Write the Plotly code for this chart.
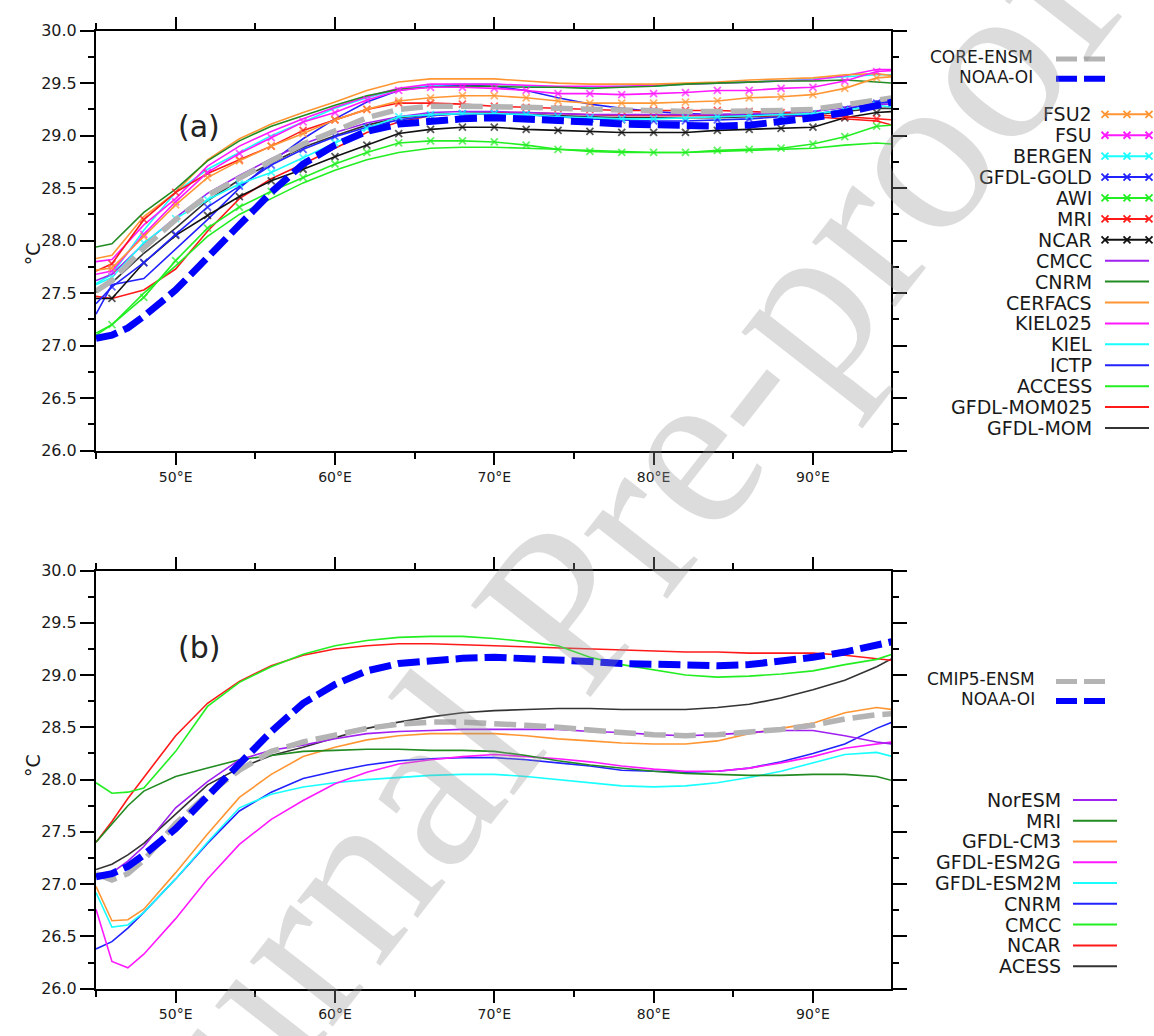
import plotly.graph_objects as go

# ---------------- data ----------------
# panel (a) longitude grid (every 2 deg, plus edges)
LON_A = [45, 46, 48, 50, 52, 54, 56, 58, 60, 62, 64, 66, 68, 70, 72, 74, 76, 78, 80, 82, 84, 86, 88, 90, 92, 94, 95]
# panel (b) longitude grid
LON_B = [45, 46, 47, 48, 50, 52, 54, 56, 58, 60, 62, 64, 66, 68, 70, 72, 74, 76, 78, 80, 82, 84, 86, 88, 90, 92, 94, 95]

NOAA_OI = [27.07, 27.10, 27.17, 27.28, 27.53, 27.83, 28.15, 28.46, 28.73, 28.91, 29.04, 29.11, 29.14, 29.16, 29.17,
           29.16, 29.15, 29.13, 29.11, 29.10, 29.09, 29.09, 29.10, 29.13, 29.17, 29.22, 29.29, 29.32]

# panel (a) : CORE models
CORE_ENSM = [27.52, 27.62, 27.93, 28.20, 28.43, 28.60, 28.76, 28.92, 29.05, 29.17, 29.25, 29.28, 29.28, 29.28, 29.27,
             29.26, 29.25, 29.24, 29.23, 29.23, 29.23, 29.23, 29.24, 29.25, 29.29, 29.34, 29.36]
FSU2 = [27.72, 27.74, 28.04, 28.34, 28.60, 28.76, 28.90, 29.02, 29.15, 29.25, 29.33, 29.36, 29.38, 29.38, 29.36,
        29.33, 29.31, 29.31, 29.31, 29.32, 29.33, 29.36, 29.37, 29.39, 29.45, 29.55, 29.56]
FSU = [27.68, 27.71, 28.06, 28.37, 28.65, 28.83, 28.98, 29.13, 29.22, 29.34, 29.43, 29.46, 29.46, 29.45, 29.43,
       29.40, 29.40, 29.39, 29.40, 29.41, 29.43, 29.43, 29.45, 29.46, 29.52, 29.61, 29.62]
BERGEN = [27.58, 27.65, 27.98, 28.21, 28.39, 28.54, 28.65, 28.79, 28.93, 29.07, 29.18, 29.20, 29.21, 29.21, 29.20,
          29.18, 29.17, 29.16, 29.16, 29.17, 29.18, 29.19, 29.20, 29.21, 29.24, 29.29, 29.27]
GFDL_GOLD = [27.40, 27.56, 27.79, 28.06, 28.32, 28.52, 28.72, 28.87, 28.99, 29.08, 29.15, 29.19, 29.21, 29.21, 29.20,
             29.18, 29.16, 29.15, 29.14, 29.14, 29.15, 29.16, 29.18, 29.20, 29.25, 29.31, 29.32]
AWI = [27.10, 27.20, 27.46, 27.81, 28.12, 28.32, 28.47, 28.60, 28.73, 28.84, 28.93, 28.95, 28.95, 28.94, 28.91,
       28.87, 28.85, 28.84, 28.84, 28.84, 28.86, 28.87, 28.88, 28.92, 28.99, 29.09, 29.10]
MRI_A = [27.71, 27.78, 28.20, 28.46, 28.64, 28.77, 28.90, 29.05, 29.15, 29.25, 29.31, 29.31, 29.30, 29.28, 29.27,
         29.26, 29.25, 29.24, 29.24, 29.24, 29.24, 29.23, 29.22, 29.20, 29.18, 29.16, 29.15]
NCAR_A = [27.45, 27.45, 27.79, 28.05, 28.24, 28.42, 28.57, 28.68, 28.80, 28.91, 29.02, 29.06, 29.08, 29.08, 29.06,
          29.05, 29.04, 29.03, 29.03, 29.03, 29.05, 29.06, 29.07, 29.08, 29.17, 29.22, 29.23]
CMCC_A = [27.62, 27.68, 27.97, 28.22, 28.45, 28.62, 28.78, 28.92, 29.03, 29.12, 29.18, 29.22, 29.23, 29.23, 29.22,
          29.21, 29.20, 29.20, 29.20, 29.20, 29.20, 29.21, 29.22, 29.23, 29.27, 29.30, 29.30]
CNRM_A = [27.94, 27.97, 28.27, 28.49, 28.76, 28.95, 29.09, 29.19, 29.29, 29.38, 29.44, 29.46, 29.47, 29.47, 29.46,
          29.46, 29.45, 29.46, 29.47, 29.49, 29.50, 29.51, 29.52, 29.52, 29.53, 29.51, 29.50]
CERFACS = [27.83, 27.86, 28.23, 28.46, 28.77, 28.97, 29.11, 29.22, 29.32, 29.43, 29.51, 29.54, 29.54, 29.54, 29.52,
           29.50, 29.49, 29.49, 29.49, 29.50, 29.51, 29.53, 29.54, 29.55, 29.58, 29.59, 29.57]
KIEL025 = [27.80, 27.82, 28.15, 28.40, 28.71, 28.90, 29.04, 29.16, 29.27, 29.37, 29.45, 29.49, 29.49, 29.49, 29.48,
           29.47, 29.47, 29.47, 29.48, 29.49, 29.50, 29.51, 29.52, 29.53, 29.57, 29.63, 29.63]
KIEL = [27.59, 27.68, 28.10, 28.46, 28.68, 28.84, 29.00, 29.13, 29.26, 29.36, 29.44, 29.48, 29.49, 29.49, 29.47,
        29.46, 29.46, 29.47, 29.47, 29.49, 29.50, 29.51, 29.52, 29.54, 29.56, 29.58, 29.58]
ICTP = [27.30, 27.58, 27.64, 27.92, 28.20, 28.50, 28.75, 28.97, 29.16, 29.32, 29.43, 29.47, 29.48, 29.47, 29.43,
        29.36, 29.30, 29.26, 29.23, 29.21, 29.20, 29.20, 29.21, 29.23, 29.27, 29.33, 29.32]
ACCESS = [27.12, 27.20, 27.50, 27.76, 28.04, 28.25, 28.40, 28.55, 28.67, 28.77, 28.84, 28.88, 28.89, 28.89, 28.88,
          28.87, 28.86, 28.85, 28.84, 28.84, 28.85, 28.86, 28.87, 28.88, 28.91, 28.93, 28.92]
GFDL_MOM025 = [27.47, 27.45, 27.53, 27.73, 28.09, 28.40, 28.59, 28.73, 28.88, 29.03, 29.13, 29.19, 29.21, 29.22, 29.22,
               29.21, 29.20, 29.19, 29.19, 29.19, 29.19, 29.19, 29.19, 29.18, 29.16, 29.14, 29.10]
GFDL_MOM = [27.51, 27.60, 27.88, 28.12, 28.38, 28.58, 28.74, 28.89, 29.00, 29.10, 29.17, 29.20, 29.21, 29.21, 29.20,
            29.19, 29.18, 29.17, 29.17, 29.17, 29.17, 29.18, 29.19, 29.20, 29.23, 29.26, 29.26]

# panel (b) : CMIP5 models
CMIP5_ENSM = [27.10, 27.04, 27.10, 27.23, 27.58, 27.86, 28.09, 28.27, 28.36, 28.43, 28.49, 28.53, 28.55, 28.55, 28.54,
              28.52, 28.50, 28.47, 28.45, 28.43, 28.42, 28.43, 28.45, 28.48, 28.52, 28.58, 28.62, 28.63]
NorESM = [27.10, 27.11, 27.22, 27.36, 27.73, 27.98, 28.19, 28.28, 28.33, 28.39, 28.44, 28.46, 28.47, 28.48, 28.48,
          28.48, 28.48, 28.46, 28.45, 28.43, 28.42, 28.43, 28.45, 28.47, 28.47, 28.42, 28.36, 28.34]
MRI_B = [27.40, 27.58, 27.75, 27.89, 28.03, 28.11, 28.19, 28.23, 28.27, 28.28, 28.29, 28.29, 28.28, 28.28, 28.27,
         28.23, 28.18, 28.14, 28.11, 28.08, 28.06, 28.05, 28.04, 28.04, 28.05, 28.05, 28.03, 27.99]
GFDL_CM3 = [26.98, 26.65, 26.66, 26.76, 27.11, 27.48, 27.83, 28.05, 28.22, 28.31, 28.38, 28.42, 28.44, 28.44, 28.44,
            28.42, 28.39, 28.37, 28.35, 28.34, 28.34, 28.37, 28.44, 28.49, 28.54, 28.64, 28.69, 28.67]
GFDL_ESM2G = [26.76, 26.26, 26.20, 26.33, 26.67, 27.05, 27.38, 27.62, 27.80, 27.96, 28.07, 28.15, 28.19, 28.22, 28.24,
              28.22, 28.20, 28.17, 28.13, 28.10, 28.08, 28.08, 28.11, 28.16, 28.22, 28.30, 28.34, 28.36]
GFDL_ESM2M = [26.92, 26.59, 26.61, 26.73, 27.05, 27.40, 27.73, 27.86, 27.93, 27.97, 28.00, 28.02, 28.04, 28.05, 28.05,
              28.03, 28.00, 27.97, 27.94, 27.93, 27.94, 27.97, 28.02, 28.08, 28.16, 28.24, 28.26, 28.22]
CNRM_B = [26.38, 26.45, 26.58, 26.73, 27.05, 27.39, 27.70, 27.88, 28.01, 28.08, 28.14, 28.18, 28.20, 28.21, 28.21,
          28.19, 28.16, 28.13, 28.09, 28.08, 28.07, 28.08, 28.11, 28.17, 28.25, 28.34, 28.49, 28.55]
CMCC_B = [27.97, 27.87, 27.88, 27.92, 28.27, 28.70, 28.93, 29.08, 29.20, 29.28, 29.33, 29.36, 29.37, 29.37, 29.35,
          29.32, 29.28, 29.17, 29.10, 29.05, 29.00, 28.98, 28.99, 29.01, 29.04, 29.10, 29.15, 29.20]
NCAR_B = [27.40, 27.60, 27.82, 28.02, 28.42, 28.73, 28.94, 29.09, 29.19, 29.25, 29.28, 29.30, 29.30, 29.29, 29.28,
          29.27, 29.26, 29.25, 29.24, 29.23, 29.22, 29.22, 29.21, 29.21, 29.21, 29.19, 29.16, 29.14]
ACESS = [27.14, 27.19, 27.28, 27.39, 27.67, 27.95, 28.11, 28.23, 28.31, 28.40, 28.49, 28.55, 28.60, 28.64, 28.66,
         28.67, 28.68, 28.68, 28.67, 28.67, 28.67, 28.69, 28.72, 28.78, 28.86, 28.95, 29.08, 29.16]

Y_TICKS = [26.0, 26.5, 27.0, 27.5, 28.0, 28.5, 29.0, 29.5, 30.0]
X_TICKS = [50, 60, 70, 80, 90]
X_TICK_LABELS = ["50°E", "60°E", "70°E", "80°E", "90°E"]

# ---------------- styles ----------------
ORANGE = "#ff9633"
MAGENTA = "#ff19ff"
CYAN = "#19ffff"
BLUE = "#2222ff"
GREEN = "#22ee22"
RED = "#ff1a1a"
BLACK = "#111111"
PURPLE = "#a020f0"
DKGREEN = "#228b22"
GRAY = "#b4b4b4"
NOAA_BLUE = "#0000ff"

W, H = 1154, 1036
FONT = "DejaVu Sans"
TXT = "#1a1a1a"
LEG_SIZE = 19
TOP_LEG_SIZE = 17


def px(x):
    return x / W


def py(y):
    return 1 - y / H


# panel (a) series: (name, data, color, markers?)
SERIES_A = [
    ("FSU2", FSU2, ORANGE, True),
    ("FSU", FSU, MAGENTA, True),
    ("BERGEN", BERGEN, CYAN, True),
    ("GFDL-GOLD", GFDL_GOLD, BLUE, True),
    ("AWI", AWI, GREEN, True),
    ("MRI", MRI_A, RED, True),
    ("NCAR", NCAR_A, BLACK, True),
    ("CMCC", CMCC_A, PURPLE, False),
    ("CNRM", CNRM_A, DKGREEN, False),
    ("CERFACS", CERFACS, ORANGE, False),
    ("KIEL025", KIEL025, MAGENTA, False),
    ("KIEL", KIEL, CYAN, False),
    ("ICTP", ICTP, BLUE, False),
    ("ACCESS", ACCESS, GREEN, False),
    ("GFDL-MOM025", GFDL_MOM025, RED, False),
    ("GFDL-MOM", GFDL_MOM, "#333333", False),
]
SERIES_B = [
    ("NorESM", NorESM, PURPLE),
    ("MRI", MRI_B, DKGREEN),
    ("GFDL-CM3", GFDL_CM3, ORANGE),
    ("GFDL-ESM2G", GFDL_ESM2G, MAGENTA),
    ("GFDL-ESM2M", GFDL_ESM2M, CYAN),
    ("CNRM", CNRM_B, BLUE),
    ("CMCC", CMCC_B, GREEN),
    ("NCAR", NCAR_B, RED),
    ("ACESS", ACESS, "#333333"),
]

fig = go.Figure()

msizes = [0 if (x == 45 or x == 95) else 7 for x in LON_A]

# panel (a) thin lines
for name, data, col, mk in SERIES_A[::-1]:
    if mk:
        fig.add_trace(go.Scatter(x=LON_A, y=data, mode="lines+markers", name=name, showlegend=False,
                                 line=dict(color=col, width=1.6),
                                 marker=dict(symbol="x-thin", size=msizes, color=col,
                                             line=dict(color=col, width=1.8)),
                                 xaxis="x", yaxis="y"))
    else:
        fig.add_trace(go.Scatter(x=LON_A, y=data, mode="lines", name=name, showlegend=False,
                                 line=dict(color=col, width=1.6), xaxis="x", yaxis="y"))
fig.add_trace(go.Scatter(x=LON_A, y=CORE_ENSM, mode="lines", name="CORE-ENSM", showlegend=False,
                         line=dict(color=GRAY, width=5.5, dash="22px,8px"), xaxis="x", yaxis="y"))
fig.add_trace(go.Scatter(x=LON_B, y=NOAA_OI, mode="lines", name="NOAA-OI", showlegend=False,
                         line=dict(color=NOAA_BLUE, width=7, dash="22px,7px"), xaxis="x", yaxis="y"))

# panel (b)
for name, data, col in SERIES_B[::-1]:
    fig.add_trace(go.Scatter(x=LON_B, y=data, mode="lines", name=name, showlegend=False,
                             line=dict(color=col, width=1.6), xaxis="x2", yaxis="y2"))
fig.add_trace(go.Scatter(x=LON_B, y=CMIP5_ENSM, mode="lines", name="CMIP5-ENSM", showlegend=False,
                         line=dict(color=GRAY, width=5.5, dash="22px,8px"), xaxis="x2", yaxis="y2"))
fig.add_trace(go.Scatter(x=LON_B, y=NOAA_OI, mode="lines", name="NOAA-OI", showlegend=False,
                         line=dict(color=NOAA_BLUE, width=7, dash="22px,7px"), xaxis="x2", yaxis="y2"))

# ---------------- axes ----------------
XDOM = [px(96), px(891)]
common_x = dict(range=[45, 94.9], tickmode="array", tickvals=X_TICKS, ticktext=X_TICK_LABELS,
                ticks="outside", ticklen=12, tickwidth=2, tickcolor="black",
                showline=True, linewidth=2, linecolor="black", mirror="ticks",
                showgrid=False, zeroline=False,
                minor=dict(tickvals=[45, 55, 65, 75, 85], ticklen=6, tickwidth=2, tickcolor="black", ticks="outside"),
                tickfont=dict(family=FONT, size=14, color=TXT), domain=XDOM)
common_y = dict(range=[26, 30], tickmode="array", tickvals=Y_TICKS, ticktext=[f"{v:.1f}" for v in Y_TICKS],
                ticks="outside", ticklen=14, tickwidth=2, tickcolor="black",
                showline=True, linewidth=2, linecolor="black", mirror="ticks",
                showgrid=False, zeroline=False,
                minor=dict(dtick=0.25, tick0=26, ticklen=6, tickwidth=2, tickcolor="black", ticks="outside"),
                tickfont=dict(family=FONT, size=16, color=TXT))

fig.update_layout(
    width=W, height=H, margin=dict(l=0, r=0, t=0, b=0),
    paper_bgcolor="white", plot_bgcolor="rgba(0,0,0,0)",
    xaxis=dict(**common_x, anchor="y"),
    yaxis=dict(**common_y, domain=[py(450), py(22)], anchor="x"),
    xaxis2=dict(**common_x, anchor="y2"),
    yaxis2=dict(**common_y, domain=[py(998), py(572)], anchor="x2"),
    xaxis3=dict(domain=[0, 1], range=[0, 1], visible=False, anchor="y3"),
    yaxis3=dict(domain=[0, 1], range=[0, 1], visible=False, anchor="x3"),
    showlegend=False,
)

annotations = []
shapes = []
leg_mx, leg_my, leg_mc = [], [], []

# y titles and panel labels
for yc in (236, 785):
    annotations.append(dict(x=px(20), y=py(yc), xref="paper", yref="paper", text="°C", showarrow=False,
                            textangle=-90, font=dict(family=FONT, size=19, color=TXT)))
annotations.append(dict(x=px(176), y=py(100), xref="paper", yref="paper", text="(a)", showarrow=False,
                        font=dict(family=FONT, size=30, color="#222222")))
annotations.append(dict(x=px(176), y=py(650), xref="paper", yref="paper", text="(b)", showarrow=False,
                        font=dict(family=FONT, size=30, color="#222222")))


def dash_entry(label, yc, col, width, text_right):
    annotations.append(dict(x=px(text_right), y=py(yc), xref="paper", yref="paper", text=label,
                            showarrow=False, xanchor="right", yanchor="middle",
                            font=dict(family=FONT, size=TOP_LEG_SIZE, color=TXT)))
    shapes.append(dict(type="line", xref="paper", yref="paper", x0=px(1056), x1=px(1105),
                       y0=py(yc + 2), y1=py(yc + 2), line=dict(color=col, width=width, dash="21px,7px")))


def line_entry(label, yc, col, text_right, x0, x1, marked):
    annotations.append(dict(x=px(text_right), y=py(yc), xref="paper", yref="paper", text=label,
                            showarrow=False, xanchor="right", yanchor="middle",
                            font=dict(family=FONT, size=LEG_SIZE, color=TXT)))
    shapes.append(dict(type="line", xref="paper", yref="paper", x0=px(x0), x1=px(x1),
                       y0=py(yc), y1=py(yc), line=dict(color=col, width=2)))
    if marked:
        for xm in (x0, (x0 + x1) / 2, x1):
            leg_mx.append(px(xm))
            leg_my.append(py(yc))
            leg_mc.append(col)


dash_entry("CORE-ENSM", 49, GRAY, 5, 1035)
dash_entry("NOAA-OI", 69, NOAA_BLUE, 6, 1035)
for i, (name, data, col, mk) in enumerate(SERIES_A):
    line_entry(name, 107.3 + i * 21.3, col, 1094, 1105, 1149, mk)

dash_entry("CMIP5-ENSM", 683, GRAY, 5, 1037)
dash_entry("NOAA-OI", 703, NOAA_BLUE, 6, 1037)
for i, (name, data, col) in enumerate(SERIES_B):
    line_entry(name, 805.7 + i * 21.17, col, 1063, 1073, 1117, False)

fig.add_trace(go.Scatter(x=leg_mx, y=leg_my, mode="markers", showlegend=False, hoverinfo="skip",
                         marker=dict(symbol="x-thin", size=7, color=leg_mc, line=dict(color=leg_mc, width=1.8)),
                         xaxis="x3", yaxis="y3"))

# watermark
annotations.append(dict(x=px(570), y=py(600), xref="paper", yref="paper", text="Journal Pre-proof",
                        showarrow=False, textangle=-52,
                        font=dict(family="Liberation Serif", size=230, color="rgba(150,150,150,0.33)")))

fig.update_layout(annotations=annotations, shapes=shapes)
fig.write_html("out.html")
